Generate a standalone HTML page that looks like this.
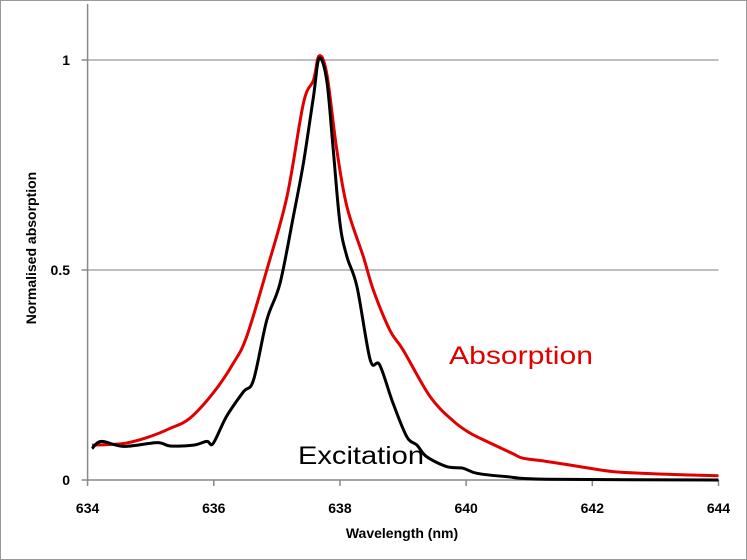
<!DOCTYPE html>
<html><head><meta charset="utf-8"><style>
body{margin:0;background:#fff}
svg{display:block;font-family:"Liberation Sans",Arial,sans-serif}
</style></head><body>
<svg id="chart" width="747" height="560" viewBox="0 0 747 560">
<rect x="0.5" y="0.5" width="746" height="559" fill="#fff" stroke="#999" stroke-width="1"/>
<g id="grid"></g><g id="axes"></g><g id="series"></g>
<text transform="translate(36,248) rotate(-90)" text-anchor="middle" font-size="14" font-weight="bold">Normalised absorption</text>
<text x="402" y="538" text-anchor="middle" font-size="14" font-weight="bold">Wavelength (nm)</text>
<text x="449" y="364" font-size="25" fill="#e00000" textLength="144" lengthAdjust="spacingAndGlyphs">Absorption</text>
<text x="298" y="464" font-size="25" fill="#000" textLength="126" lengthAdjust="spacingAndGlyphs">Excitation</text>
</svg>
<script>
const xTicks=[634,636,638,640,642,644];
const yTicks=[0,0.5,1];
const yTickLabels=["0","0.5","1"];
const absX=[634.07,634.57,634.94,635.31,635.62,635.99,636.31,636.52,636.84,637.16,637.42,637.58,637.67,637.79,637.95,638.11,638.37,638.53,638.79,639.0,639.43,639.8,640.06,640.38,640.75,640.9,641.28,641.8,642.33,643.12,644.0];
const absY=[0.083,0.087,0.101,0.123,0.147,0.207,0.278,0.341,0.5,0.675,0.897,0.952,1.01,0.968,0.786,0.651,0.532,0.452,0.357,0.31,0.198,0.14,0.112,0.088,0.062,0.052,0.044,0.032,0.02,0.014,0.01];
const excX=[634.07,634.22,634.57,635.1,635.31,635.68,635.89,635.99,636.2,636.47,636.63,636.84,637.05,637.26,637.42,637.58,637.67,637.79,637.89,638.0,638.11,638.27,638.48,638.63,638.84,639.06,639.22,639.37,639.69,639.95,640.17,640.64,641.28,644.0];
const excY=[0.075,0.092,0.08,0.089,0.081,0.083,0.092,0.087,0.151,0.21,0.238,0.381,0.468,0.627,0.754,0.913,1.004,0.952,0.793,0.611,0.532,0.46,0.286,0.274,0.183,0.103,0.083,0.056,0.032,0.028,0.016,0.008,0.002,0.0];
const NS="http://www.w3.org/2000/svg";
const X0=87.6,X1=718.5,Y0=480,Y1=60;
const sx=v=>X0+(v-634)/(644-634)*(X1-X0);
const sy=v=>Y0-v*(Y0-Y1);
function mk(tag,attrs,parent){const e=document.createElementNS(NS,tag);for(const k in attrs)e.setAttribute(k,attrs[k]);parent.appendChild(e);return e;}
const grid=document.getElementById('grid'),axes=document.getElementById('axes'),ser=document.getElementById('series');
yTicks.forEach((t,i)=>{
 if(t>0){const g=mk('line',{x1:X0,x2:X1,y1:sy(t),y2:sy(t),stroke:'#aaa','stroke-width':1.5},grid);
 
 }
 const tk=mk('line',{x1:X0-6,x2:X0,y1:sy(t),y2:sy(t),stroke:'#888','stroke-width':1.5},axes);
 
 
 const tx=mk('text',{x:70,y:sy(t)+5,'text-anchor':'end','font-size':14,'font-weight':'bold'},axes);
 tx.textContent=yTickLabels[i];
 
 
});
xTicks.forEach(t=>{
 const tk=mk('line',{x1:sx(t),x2:sx(t),y1:Y0,y2:Y0+6,stroke:'#888','stroke-width':1.5},axes);
 
 
 const tx=mk('text',{x:sx(t),y:513,'text-anchor':'middle','font-size':14,'font-weight':'bold'},axes);
 tx.textContent=String(t);
 
 
});
const ya=mk('line',{x1:X0,x2:X0,y1:4,y2:Y0,stroke:'#888','stroke-width':1.5},axes);


const xa=mk('line',{x1:X0,x2:X1,y1:Y0,y2:Y0,stroke:'#888','stroke-width':1.5},axes);


function path(xs,ys){
 const p=xs.map((x,i)=>[sx(x),sy(ys[i])]);
 let d='M'+p[0][0].toFixed(1)+','+p[0][1].toFixed(1);
 for(let i=0;i<p.length-1;i++){
  const a=p[Math.max(i-1,0)],b=p[i],c=p[i+1],e=p[Math.min(i+2,p.length-1)];
  const c1=[b[0]+(c[0]-a[0])/6,b[1]+(c[1]-a[1])/6],c2=[c[0]-(e[0]-b[0])/6,c[1]-(e[1]-b[1])/6];
  d+='C'+c1[0].toFixed(1)+','+c1[1].toFixed(1)+' '+c2[0].toFixed(1)+','+c2[1].toFixed(1)+' '+c[0].toFixed(1)+','+c[1].toFixed(1);
 }
 return d;
}
const pa=mk('path',{d:path(absX,absY),fill:'none',stroke:'#e00000','stroke-width':3,'stroke-linejoin':'round'},ser);


const pe=mk('path',{d:path(excX,excY),fill:'none',stroke:'#000','stroke-width':3,'stroke-linejoin':'round'},ser);


</script>
</body></html>
